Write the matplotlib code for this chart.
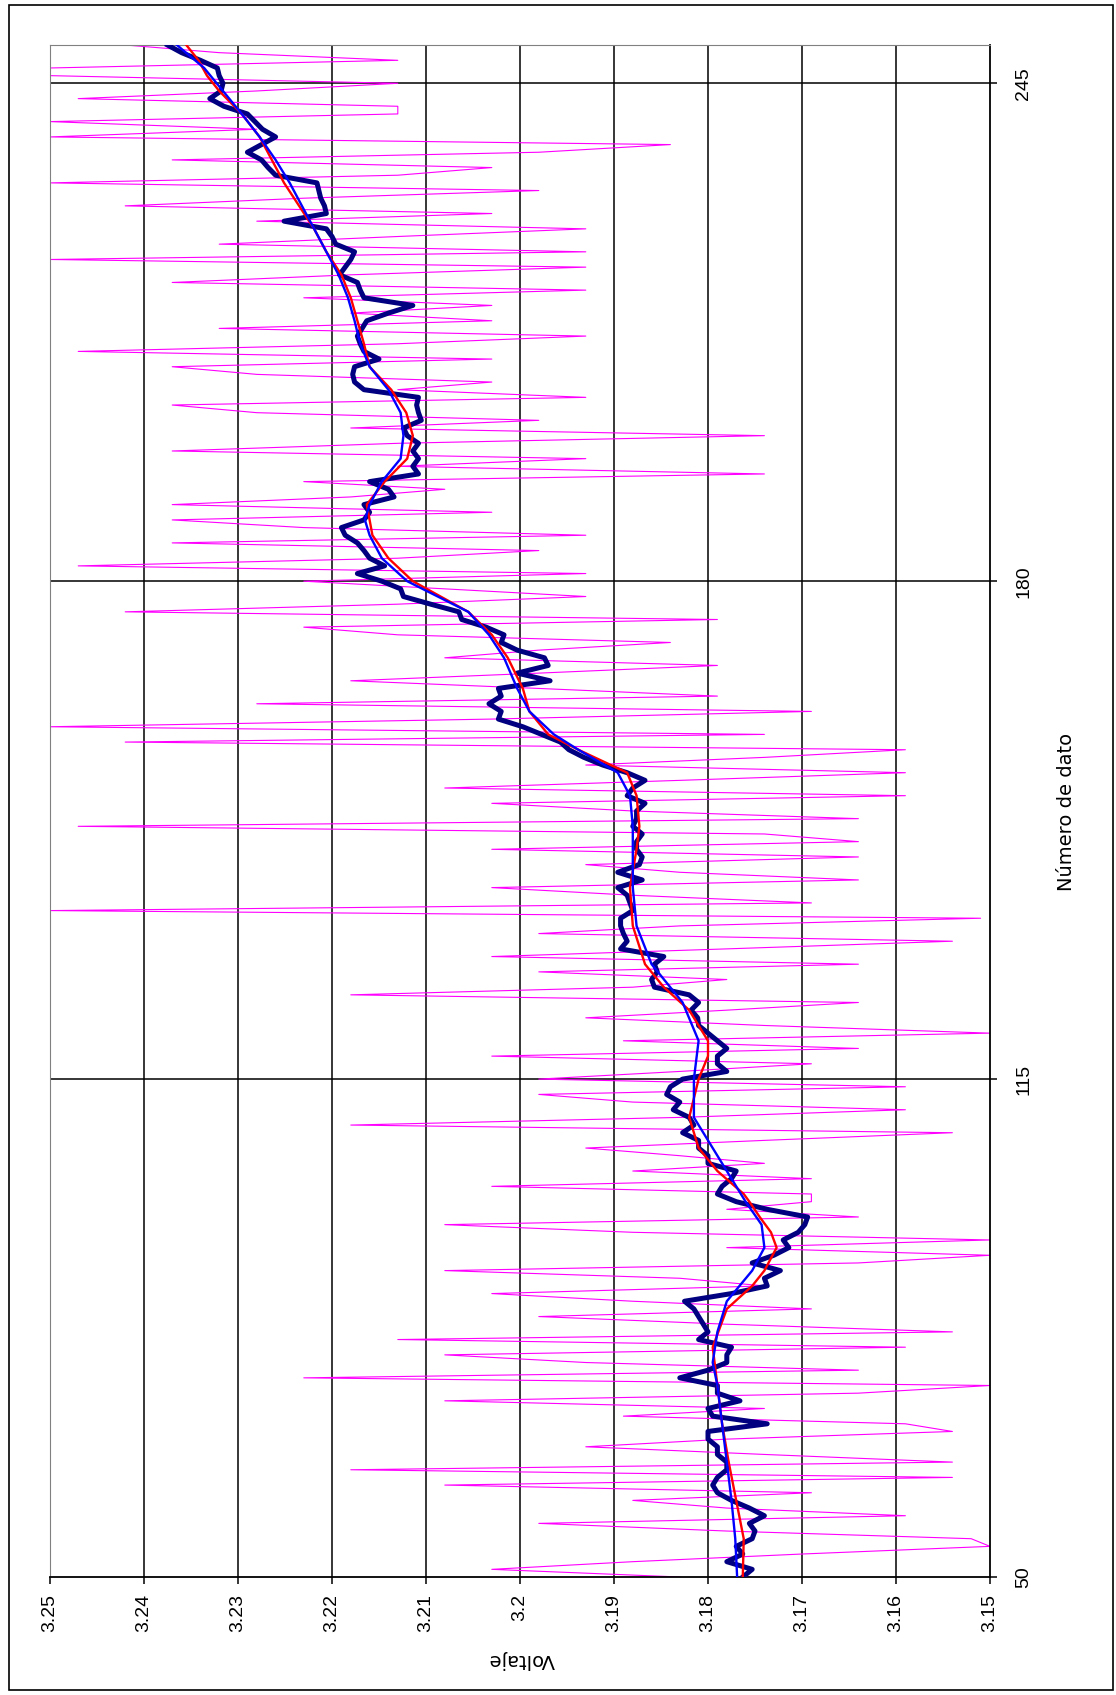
import matplotlib
matplotlib.use("Agg")
import matplotlib.pyplot as plt
from matplotlib.patches import Rectangle
import numpy as np

plt.rcParams['font.family'] = ['Liberation Sans', 'DejaVu Sans']

# data numbers 50..250
dato = np.arange(50, 251)

# raw readings (magenta)
voltaje = [
    3.183, 3.203, 3.188, 3.170, 3.150, 3.152, 3.178, 3.198, 3.159, 3.178,
    3.188, 3.169, 3.208, 3.154, 3.218, 3.154, 3.174, 3.193, 3.178, 3.154,
    3.159, 3.189, 3.174, 3.208, 3.164, 3.150, 3.223, 3.164, 3.193, 3.208,
    3.159, 3.213, 3.154, 3.178, 3.198, 3.169, 3.188, 3.203, 3.174, 3.183,
    3.208, 3.164, 3.150, 3.178, 3.150, 3.188, 3.208, 3.164, 3.178, 3.169,
    3.169, 3.203, 3.169, 3.188, 3.174, 3.183, 3.193, 3.174, 3.154, 3.218,
    3.183, 3.159, 3.188, 3.198, 3.159, 3.198, 3.183, 3.169, 3.203, 3.164,
    3.189, 3.150, 3.174, 3.193, 3.178, 3.164, 3.218, 3.188, 3.178, 3.198,
    3.164, 3.203, 3.178, 3.154, 3.198, 3.183, 3.151, 3.250, 3.169, 3.188,
    3.203, 3.164, 3.183, 3.193, 3.164, 3.203, 3.164, 3.174, 3.247, 3.164,
    3.188, 3.203, 3.159, 3.208, 3.183, 3.159, 3.193, 3.174, 3.159, 3.242,
    3.174, 3.250, 3.203, 3.169, 3.228, 3.179, 3.198, 3.218, 3.198, 3.179,
    3.208, 3.198, 3.184, 3.213, 3.223, 3.179, 3.242, 3.213, 3.193, 3.208,
    3.223, 3.193, 3.247, 3.213, 3.198, 3.237, 3.193, 3.223, 3.237, 3.203,
    3.237, 3.218, 3.208, 3.223, 3.174, 3.213, 3.193, 3.237, 3.213, 3.174,
    3.218, 3.198, 3.228, 3.237, 3.193, 3.213, 3.203, 3.228, 3.237, 3.203,
    3.247, 3.213, 3.193, 3.232, 3.203, 3.218, 3.203, 3.223, 3.193, 3.237,
    3.218, 3.193, 3.250, 3.193, 3.232, 3.213, 3.193, 3.228, 3.203, 3.242,
    3.223, 3.198, 3.250, 3.213, 3.203, 3.237, 3.198, 3.184, 3.250, 3.228,
    3.250, 3.213, 3.213, 3.247, 3.228, 3.213, 3.250, 3.250, 3.213, 3.232,
    3.242,
]

# short moving average (navy)
media_corta = [
    3.1763, 3.1753, 3.1780, 3.1763, 3.1770, 3.1753, 3.1750, 3.1756, 3.1740, 3.1756,
    3.1775, 3.1790, 3.1795, 3.1790, 3.1780, 3.1780, 3.1790, 3.1790, 3.1800, 3.1800,
    3.1737, 3.1795, 3.1800, 3.1766, 3.1790, 3.1790, 3.1830, 3.1800, 3.1780, 3.1780,
    3.1775, 3.1810, 3.1800, 3.1805, 3.1810, 3.1815, 3.1825, 3.1775, 3.1737, 3.1740,
    3.1723, 3.1753, 3.1730, 3.1714, 3.1720, 3.1704, 3.1697, 3.1694, 3.1737, 3.1770,
    3.1790, 3.1785, 3.1775, 3.1770, 3.1800, 3.1800, 3.1810, 3.1810, 3.1827, 3.1815,
    3.1820, 3.1837, 3.1830, 3.1844, 3.1840, 3.1827, 3.1780, 3.1790, 3.1790, 3.1780,
    3.1790, 3.1800, 3.1810, 3.1811, 3.1818, 3.1810, 3.1820, 3.1857, 3.1860, 3.1854,
    3.1857, 3.1847, 3.1893, 3.1886, 3.1890, 3.1893, 3.1893, 3.1880, 3.1883, 3.1886,
    3.1896, 3.1870, 3.1896, 3.1873, 3.1870, 3.1876, 3.1876, 3.1870, 3.1880, 3.1876,
    3.1876, 3.1867, 3.1886, 3.1880, 3.1867, 3.1886, 3.1912, 3.1932, 3.1948, 3.1957,
    3.1977, 3.1997, 3.2023, 3.2020, 3.2033, 3.2020, 3.2023, 3.1968, 3.2003, 3.1970,
    3.1974, 3.2003, 3.2020, 3.2017, 3.2036, 3.2062, 3.2065, 3.2095, 3.2124, 3.2127,
    3.2147, 3.2173, 3.2144, 3.2160, 3.2166, 3.2173, 3.2186, 3.2190, 3.2166, 3.2160,
    3.2166, 3.2134, 3.2140, 3.2160, 3.2108, 3.2114, 3.2108, 3.2114, 3.2108, 3.2120,
    3.2124, 3.2105, 3.2108, 3.2110, 3.2108, 3.2166, 3.2176, 3.2178, 3.2176, 3.2150,
    3.2166, 3.2170, 3.2173, 3.2168, 3.2163, 3.2140, 3.2114, 3.2166, 3.2170, 3.2173,
    3.2192, 3.2186, 3.2180, 3.2176, 3.2196, 3.2200, 3.2206, 3.2251, 3.2206, 3.2208,
    3.2212, 3.2214, 3.2216, 3.2260, 3.2268, 3.2275, 3.2290, 3.2275, 3.2260, 3.2274,
    3.2282, 3.2290, 3.2315, 3.2330, 3.2318, 3.2316, 3.2320, 3.2322, 3.2340, 3.2360,
    3.2375,
]

# smoother curves (red, blue)
dato_rojo = [50, 55, 60, 65, 70, 75, 80, 85, 88, 90, 93, 95, 97, 99, 100, 103, 106,
             110, 115, 118, 120, 124, 127, 130, 135, 140, 145, 148, 152, 155, 158,
             160, 163, 166, 170, 173, 176, 180, 183, 186, 190, 193, 196, 199, 202,
             205, 208, 211, 214, 217, 220, 223, 226, 229, 232, 235, 238, 241, 244,
             246, 248, 250]
rojo = [3.1763, 3.1762, 3.1770, 3.1778, 3.1785, 3.1790, 3.1795, 3.1780, 3.1753,
        3.1740, 3.1727, 3.1733, 3.1745, 3.1756, 3.1762, 3.1790, 3.1810, 3.1820,
        3.1810, 3.1800, 3.1800, 3.1820, 3.1847, 3.1867, 3.1880, 3.1883, 3.1876,
        3.1873, 3.1876, 3.1886, 3.1938, 3.1970, 3.1990, 3.1997, 3.2013, 3.2030,
        3.2055, 3.2114, 3.2140, 3.2157, 3.2163, 3.2144, 3.2120, 3.2114, 3.2121,
        3.2137, 3.2160, 3.2166, 3.2173, 3.2180, 3.2190, 3.2206, 3.2219, 3.2235,
        3.2251, 3.2264, 3.2277, 3.2296, 3.2320, 3.2333, 3.2342, 3.2355]

dato_azul = [50, 55, 60, 65, 70, 75, 78, 82, 86, 90, 93, 96, 99, 102, 105, 110, 115,
             120, 125, 130, 135, 140, 145, 148, 152, 155, 158, 160, 163, 166, 170,
             173, 176, 180, 183, 186, 188, 190, 193, 196, 199, 202, 205, 208, 211,
             214, 217, 220, 223, 226, 229, 232, 235, 238, 241, 244, 247, 250]
azul = [3.1769, 3.1771, 3.1775, 3.1780, 3.1785, 3.1790, 3.1795, 3.1790, 3.1780,
        3.1753, 3.1740, 3.1743, 3.1760, 3.1775, 3.1790, 3.1815, 3.1815, 3.1810,
        3.1827, 3.1860, 3.1876, 3.1880, 3.1880, 3.1880, 3.1883, 3.1896, 3.1938,
        3.1964, 3.1990, 3.2003, 3.2017, 3.2033, 3.2055, 3.2120, 3.2147, 3.2160,
        3.2165, 3.2160, 3.2147, 3.2127, 3.2124, 3.2127, 3.2140, 3.2160, 3.2170,
        3.2176, 3.2183, 3.2193, 3.2206, 3.2219, 3.2232, 3.2245, 3.2260, 3.2277,
        3.2296, 3.2316, 3.2336, 3.2365]

volt_ticks = [3.25, 3.24, 3.23, 3.22, 3.21, 3.2, 3.19, 3.18, 3.17, 3.16, 3.15]
volt_labels = ['3.25', '3.24', '3.23', '3.22', '3.21', '3.2', '3.19', '3.18', '3.17', '3.16', '3.15']
dato_ticks = [50, 115, 180, 245]

W, H = 1116, 1695
fig = plt.figure(figsize=(W / 100, H / 100), dpi=100)
ax = fig.add_axes([50 / W, 1 - 1577 / H, 940 / W, 1532 / H])

# chart drawn turned on its side: voltage across, data number upward
ax.plot(voltaje, dato, color='#FF00FF', lw=0.8, zorder=2)
ax.plot(media_corta, dato, color='#000080', lw=3.6, zorder=3)
ax.plot(rojo, dato_rojo, color='#FF0000', lw=1.7, zorder=4)
ax.plot(azul, dato_azul, color='#0000FF', lw=1.7, zorder=5)

ax.set_xlim(3.25, 3.15)
ax.set_ylim(50, 250)
ax.set_xticks(volt_ticks)
ax.set_xticklabels(volt_labels, rotation=90)
ax.yaxis.tick_right()
ax.set_yticks(dato_ticks)
ax.set_yticklabels([str(t) for t in dato_ticks], rotation=90, va='center')

for v in volt_ticks[1:-1]:
    ax.axvline(v, color='black', lw=1.1, zorder=1)
for d in dato_ticks[1:]:
    ax.axhline(d, color='black', lw=1.1, zorder=1)

ax.tick_params(axis='x', direction='out', length=5, width=1.1, pad=7, labelsize=14)
ax.tick_params(axis='y', direction='out', length=5, width=1.1, pad=13, labelsize=14)
ax.spines['right'].set_color('black')
ax.spines['bottom'].set_color('black')
ax.spines['right'].set_linewidth(1.3)
ax.spines['bottom'].set_linewidth(1.3)
ax.spines['left'].set_color('#808080')
ax.spines['top'].set_color('#808080')

fig.text(522 / W, 1 - 1660 / H, 'Voltaje', rotation=180, ha='center', va='center',
         fontsize=14, family='DejaVu Sans')
fig.text(1067 / W, 1 - 812 / H, 'Número de dato', rotation=90, ha='center', va='center',
         fontsize=14, family='DejaVu Sans')

fig.patches.append(Rectangle((9 / W, 5 / H), 1104 / W, 1685 / H, transform=fig.transFigure,
                             fill=False, edgecolor='black', lw=1.2))

fig.savefig('out.png', dpi=100)
